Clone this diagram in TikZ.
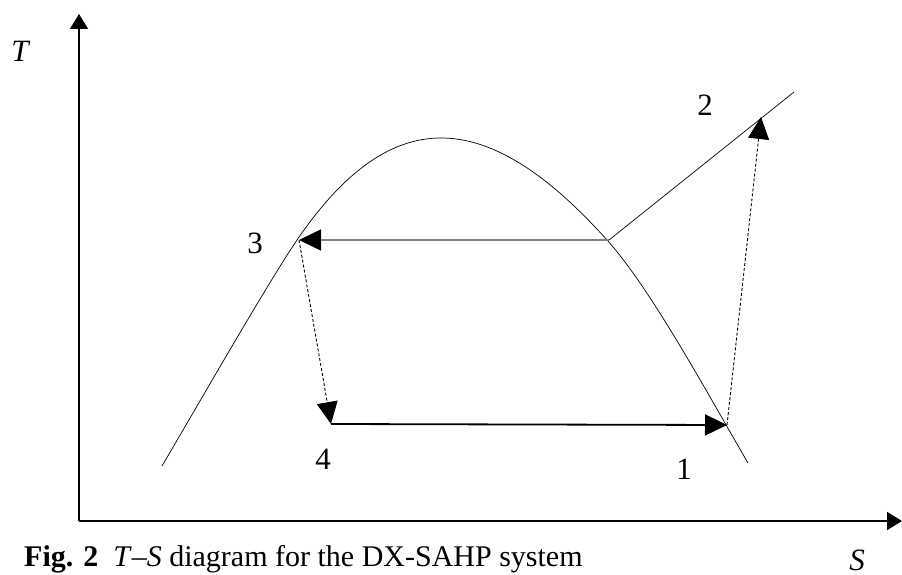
\documentclass[tikz,border=0pt]{standalone}
\usepackage{fontspec}
\setmainfont{Liberation Serif}
\usepackage{tikz}
\usetikzlibrary{arrows.meta, positioning}

\begin{document}
\begin{tikzpicture}[x=1pt, y=-1pt,
        lbl/.style={font=\fontsize{31}{36}\selectfont, inner sep=0pt},
        axis/.style={line width=1.6pt, -{Triangle[length=15pt,width=18pt]}},
        flow/.style={-{Triangle[length=22pt,width=21pt,color=black]}},
        proc/.style={dash pattern=on 3pt off 2pt, line width=0.9pt, flow}]
        \useasboundingbox (0,0) rectangle (902,575);

        % Eixos
        \coordinate (o) at (79,521);
        \coordinate (ty) at (79,14);
        \coordinate (sx) at (902,521);
        \draw[axis] (o) -- (ty);
        \draw[axis] (o) -- (sx);
        \node[lbl] (tlab) at (21,51) {\textit{T}};
        \node[lbl, anchor=base, text depth=0pt] (slab) at (857,570) {\textit{S}};

        % Estados do ciclo
        \coordinate (p1) at (727,425);
        \coordinate (p2) at (761,117);
        \coordinate (p3) at (299,240);
        \coordinate (p4) at (331,424);
        \coordinate (v) at (609,240);
        \coordinate (sh) at (794,92);

        % Curva de saturacao
        \draw[line width=0.7pt] (162,466) .. controls (202,398) and (266,286) .. (297,240)
            .. controls (390,104) and (485,104) .. (607,240)
            .. controls (651,289) and (706,391) .. (748,463);
        \draw[line width=0.7pt] (v) -- (sh);

        % Processos
        \draw[flow, line width=1.5pt, black!50] (v) -- (p3);
        \draw[proc] (p3) -- (p4);
        \draw[flow, line width=1.8pt] (p4) -- (p1);
        \draw[proc] (p1) -- (p2);

        \node[lbl] (n1) at (684,469) {1};
        \node[lbl] (n2) at (705,105) {2};
        \node[lbl] (n3) at (255,243) {3};
        \node[lbl] (n4) at (323,459) {4};

        % Legenda
        \node[anchor=base west, inner sep=0pt, font=\fontsize{30}{36}\selectfont] (cap) at (24,566)
            {\textbf{Fig. 2}\enspace\textit{T}--\textit{S} diagram for the DX-SAHP system};
\end{tikzpicture}
\end{document}
